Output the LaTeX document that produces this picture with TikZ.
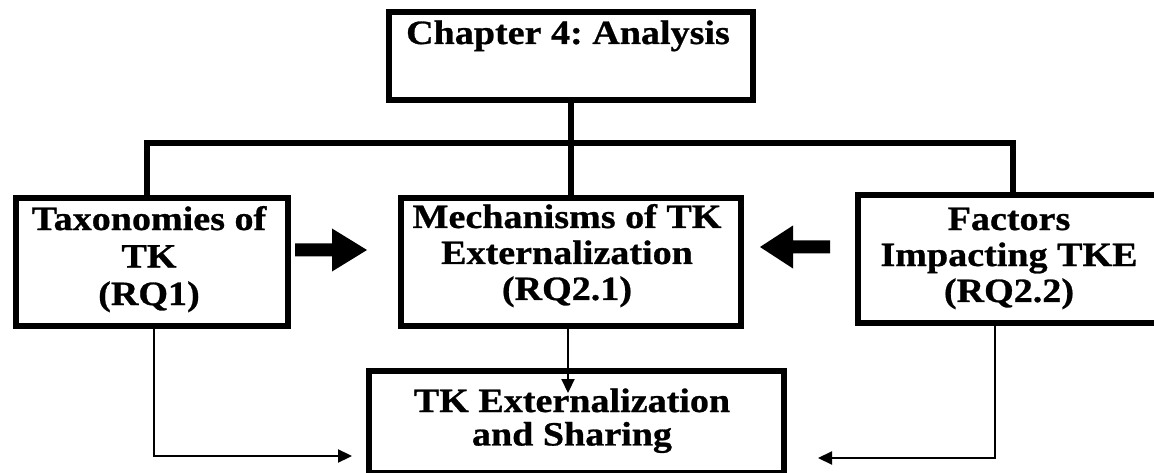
\documentclass[tikz,border=0pt]{standalone}
\usepackage{fontspec}
\setmainfont{Liberation Serif}[FakeStretch=1.12,BoldFeatures={FakeBold=0.8}]
\usetikzlibrary{arrows.meta,calc}
\frenchspacing

% centred stack whose baseline is the first line's baseline
\newcommand\stackc[2]{{\fontsize{34}{#1}\selectfont\bfseries
  \setlength\tabcolsep{0pt}\begin{tabular}[t]{c}#2\end{tabular}}}

\begin{document}
\begin{tikzpicture}[x=1pt,y=-1pt,
  box/.style={draw=black,line width=6pt,fill=white,inner sep=0pt,
    minimum width=#1,anchor=north west},
  openbox/.style={inner sep=0pt,minimum width=#1,anchor=north west},
  lbl/.style={inner sep=0pt,anchor=base},
  bus/.style={line width=6pt},
  thin/.style={line width=2.2pt,-{Triangle[length=14pt,width=13pt]}},
  block/.style={fill=black,draw=none}]
\useasboundingbox (0,0) rectangle (1154,473);

% boxes (outlines only, text placed separately)
\node[box=364pt,minimum height=88pt] (top) at (385.5,9.5) {};
\node[box=272pt,minimum height=127pt] (tax) at (12.5,195.5) {};
\node[box=340pt,minimum height=127pt] (mech) at (397.5,195.5) {};
\node[box=415pt,minimum height=102pt] (share) at (365.5,367.5) {};
% the factors box runs off the right margin
\node[openbox=310pt,minimum height=127pt] (fac) at (857.5,195.5) {};
\draw[line width=6pt,line join=miter]
  (fac.north east) -- (fac.north west) -- (fac.south west) -- (fac.south east);

% tree connector from chapter box to the three research questions
\coordinate (busL) at (147,143);
\coordinate (busR) at (1013,143);
\draw[bus] (top.south) -- (top.south |- busL);
\draw[bus] (busL |- tax.north) -- (busL) -- (busR) -- (busR |- fac.north);
\draw[bus] (mech.north) -- (mech.north |- busL);

% texts
\node[lbl] (ttop) at (568,44) {\stackc{37}{Chapter 4: Analysis}};
\node[lbl] (ttax) at (149,230) {\stackc{37.5}{Taxonomies of\\TK\\(RQ1)}};
\node[lbl] (tmech) at (567,228) {\stackc{36}{Mechanisms of TK\\Externalization\\(RQ2.1)}};
\node[lbl] (tfac) at (1009,230) {\stackc{36}{Factors\\Impacting TKE\\(RQ2.2)}};
\node[lbl] (tshare) at (572,412) {\stackc{33}{TK Externalization\\and Sharing}};

% block arrows pointing at the mechanisms box
\fill[block] (295,243.5) -- (332,243.5) -- (332,228.5) -- (367,250)
  -- (332,271.5) -- (332,256.5) -- (295,256.5) -- cycle;
\fill[block] (830,240.5) -- (793,240.5) -- (793,225.5) -- (760,247)
  -- (793,268.5) -- (793,253.5) -- (830,253.5) -- cycle;

% thin arrows into the sharing box
\coordinate (lc) at (154,456);
\coordinate (rc) at (995,458);
\draw[thin] (tax.south -| lc) -- (lc) -- (352,456);
\draw[thin] (mech.south -| 568,0) -- (568,393);
\draw[thin] (fac.south -| rc) -- (rc) -- (818,458);
\end{tikzpicture}
\end{document}
